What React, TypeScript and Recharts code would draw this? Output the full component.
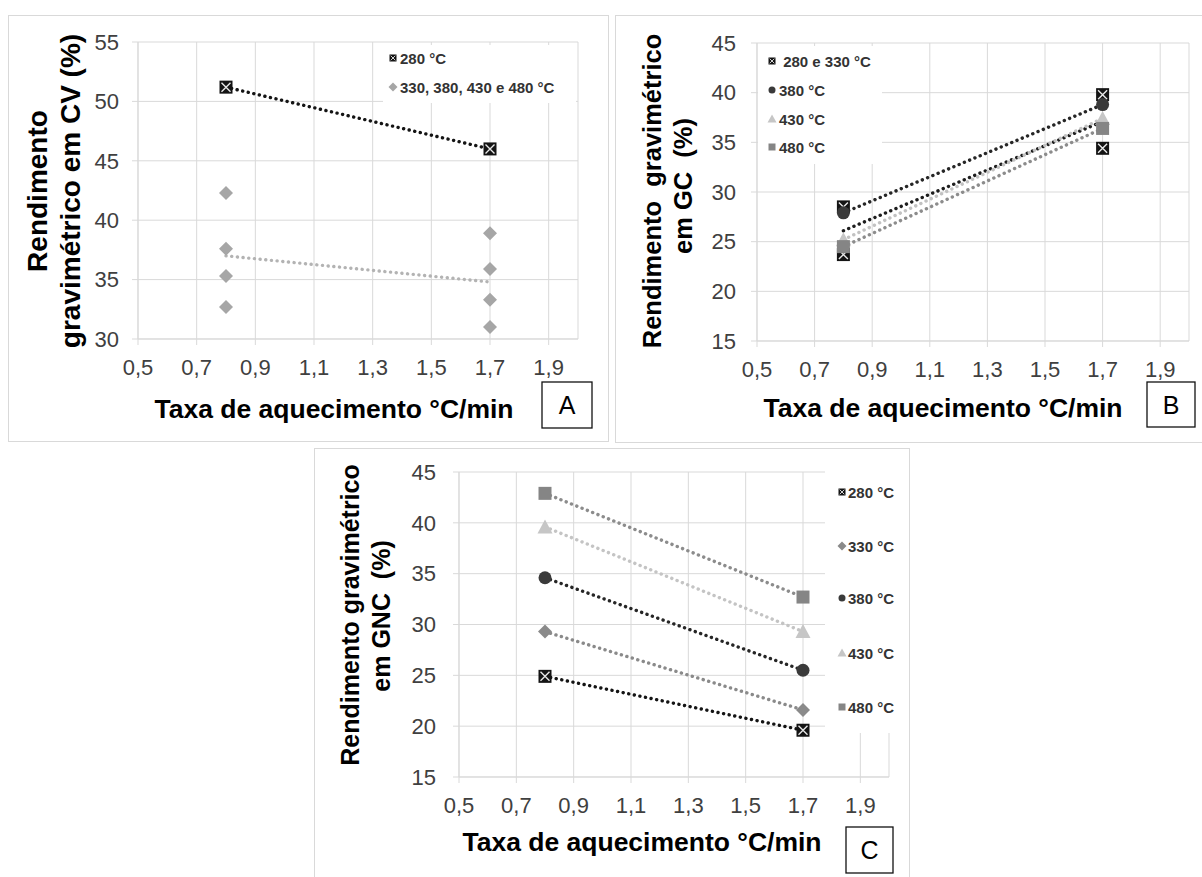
import React from 'react';
import { ScatterChart, Scatter, XAxis, YAxis, CartesianGrid, Legend } from 'recharts';

const FONT = '"Liberation Sans", Arial, Helvetica, sans-serif';
const GRID = '#d9d9d9';
const TICK = '#404040';

// Heating rates (°C/min) and shared ticks
const RATES = [0.8, 1.7];
const X_TICKS = [0.5, 0.7, 0.9, 1.1, 1.3, 1.5, 1.7, 1.9];
const Y_TICKS_CV = [30, 35, 40, 45, 50, 55];
const Y_TICKS_GAS = [15, 20, 25, 30, 35, 40, 45];

// A — rendimento em CV (%)
const CV_280 = [51.2, 46.0];
const CV_OTHERS_08 = [42.3, 37.6, 35.3, 32.7];
const CV_OTHERS_17 = [38.9, 35.9, 33.3, 31.0];
const CV_OTHERS_TREND = [37.0, 34.8];
const CV_NAMES = ['280 °C', '330, 380, 430 e 480 °C'];

// B — rendimento em GC (%)
const GC_280_330_08 = [28.5, 23.7];
const GC_280_330_17 = [39.8, 34.4];
const GC_280_330_TREND = [26.1, 37.1];
const GC_380 = [27.9, 38.8];
const GC_430 = [25.2, 37.4];
const GC_480 = [24.5, 36.4];
const GC_NAMES = [' 280 e 330 °C', '380 °C', '430 °C', '480 °C'];

// C — rendimento em GNC (%)
const GNC_280 = [24.9, 19.6];
const GNC_330 = [29.3, 21.6];
const GNC_380 = [34.6, 25.5];
const GNC_430 = [39.6, 29.3];
const GNC_480 = [42.9, 32.7];
const GNC_NAMES = ['280 °C', '330 °C', '380 °C', '430 °C', '480 °C'];

const C_BLACK = '#141414';
const C_DARK = '#3a3a3a';
const C_MID = '#8a8a8a';
const C_LIGHT = '#c6c6c6';
const C_SQUARE = '#858585';
const C_CV_GRAY = '#a6a6a6';

const pts = (xs: number[], ys: number[]) => xs.map((x, i) => ({ x, y: ys[i] }));
const spread = (x: number, ys: number[]) => ys.map((y) => ({ x, y }));
const fmtComma = (v: number) => v.toFixed(1).replace('.', ',');

const dotted = (stroke: string) => ({
  stroke,
  strokeWidth: 3.4,
  strokeDasharray: '0.1 5.6',
  strokeLinecap: 'round' as const,
  fill: 'none',
});

type Kind = 'boxX' | 'diamond' | 'circle' | 'triangle' | 'square' | 'none';

function Marker({ kind, cx, cy, size, color }: { kind: Kind; cx: number; cy: number; size: number; color: string }) {
  const h = size / 2;
  if (cx == null || cy == null) return <g />;
  switch (kind) {
    case 'boxX': {
      const i = size > 9 ? 2 : 1.2;
      return (
        <g>
          <rect x={cx - h} y={cy - h} width={size} height={size} fill={C_BLACK} />
          <path
            d={`M${cx - h + i} ${cy - h + i}L${cx + h - i} ${cy + h - i}M${cx + h - i} ${cy - h + i}L${cx - h + i} ${cy + h - i}`}
            stroke="#e8e8e8"
            strokeWidth={size > 9 ? 1.4 : 0.9}
          />
        </g>
      );
    }
    case 'diamond':
      return <path d={`M${cx} ${cy - h - 1}L${cx + h + 1} ${cy}L${cx} ${cy + h + 1}L${cx - h - 1} ${cy}Z`} fill={color} />;
    case 'circle':
      return <circle cx={cx} cy={cy} r={h} fill={color} />;
    case 'triangle':
      return <path d={`M${cx} ${cy - h - 1}L${cx + h + 1} ${cy + h}L${cx - h - 1} ${cy + h}Z`} fill={color} />;
    case 'square':
      return <rect x={cx - h} y={cy - h} width={size} height={size} fill={color} />;
    default:
      return <g />;
  }
}

const shapeOf = (kind: Kind, color: string, size = 13) => (p: any) => (
  <Marker kind={kind} cx={p.cx} cy={p.cy} size={size} color={color} />
);

type LegendEntry = { name: string; kind: Kind; color: string };

function LegendBox({ entries, width, height, mx, tx, ys }: { entries: LegendEntry[]; width: number; height: number; mx: number; tx: number; ys: number[] }) {
  return (
    <svg width={width} height={height} style={{ display: 'block' }}>
      <rect width={width} height={height} fill="#fff" />
      {entries.map((e, i) => (
        <g key={i}>
          <Marker kind={e.kind} cx={mx} cy={ys[i]} size={7} color={e.color} />
          <text
            x={tx}
            y={ys[i]}
            dominantBaseline="central"
            fontFamily={FONT}
            fontWeight="bold"
            fontSize={15}
            fill="#333"
            style={{ whiteSpace: 'pre' }}
          >
            {e.name}
          </text>
        </g>
      ))}
    </svg>
  );
}

function xAxis() {
  return (
    <XAxis
      type="number"
      dataKey="x"
      domain={[0.5, 2.0]}
      ticks={X_TICKS}
      interval={0}
      tickFormatter={fmtComma}
      tick={{ fill: TICK, fontSize: 22, fontFamily: FONT }}
      tickLine={{ stroke: GRID }}
      axisLine={{ stroke: GRID }}
      tickSize={6}
      tickMargin={14}
      height={30}
    />
  );
}

function yAxis(domain: [number, number], ticks: number[], width: number, margin: number) {
  return (
    <YAxis
      type="number"
      dataKey="y"
      domain={domain}
      ticks={ticks}
      interval={0}
      tick={{ fill: TICK, fontSize: 22, fontFamily: FONT }}
      tickLine={{ stroke: GRID }}
      axisLine={{ stroke: GRID }}
      tickSize={6}
      tickMargin={margin}
      width={width}
    />
  );
}

function PanelA() {
  const entries: LegendEntry[] = [
    { name: CV_NAMES[0], kind: 'boxX', color: C_BLACK },
    { name: CV_NAMES[1], kind: 'diamond', color: C_CV_GRAY },
  ];
  const others = [...spread(RATES[0], CV_OTHERS_08), ...spread(RATES[1], CV_OTHERS_17)];
  return (
    <ScatterChart width={600} height={426} margin={{ top: 27, right: 30, bottom: 72, left: 0 }}>
      <CartesianGrid stroke={GRID} />
      {xAxis()}
      {yAxis([30, 55], Y_TICKS_CV, 130, 13)}
      <Scatter name="trend" data={pts(RATES, CV_OTHERS_TREND)} line={dotted('#b3b3b3')} lineType="joint" shape={shapeOf('none', C_CV_GRAY)} isAnimationActive={false} />
      <Scatter name={CV_NAMES[1]} data={others} shape={shapeOf('diamond', C_CV_GRAY, 12)} isAnimationActive={false} />
      <Scatter name={CV_NAMES[0]} data={pts(RATES, CV_280)} line={dotted(C_BLACK)} lineType="joint" shape={shapeOf('boxX', C_BLACK)} isAnimationActive={false} />
      <Legend
        layout="vertical"
        align="center"
        verticalAlign="middle"
        width={193}
        height={58}
        wrapperStyle={{ left: 375, top: 30, width: 193, height: 58 }}
        content={() => <LegendBox entries={entries} width={193} height={58} mx={10} tx={17} ys={[13, 42]} />}
      />
    </ScatterChart>
  );
}

function PanelB() {
  const entries: LegendEntry[] = [
    { name: GC_NAMES[0], kind: 'boxX', color: C_BLACK },
    { name: GC_NAMES[1], kind: 'circle', color: C_DARK },
    { name: GC_NAMES[2], kind: 'triangle', color: C_LIGHT },
    { name: GC_NAMES[3], kind: 'square', color: C_SQUARE },
  ];
  const pair = [...spread(RATES[0], GC_280_330_08), ...spread(RATES[1], GC_280_330_17)];
  return (
    <ScatterChart width={587} height={427} margin={{ top: 28, right: 13, bottom: 71, left: 0 }}>
      <CartesianGrid stroke={GRID} />
      {xAxis()}
      {yAxis([15, 45], Y_TICKS_GAS, 142, 15)}
      <Scatter name="trend" data={pts(RATES, GC_280_330_TREND)} line={dotted('#1e1e1e')} lineType="joint" shape={shapeOf('none', C_BLACK)} isAnimationActive={false} />
      <Scatter name={GC_NAMES[0]} data={pair} shape={shapeOf('boxX', C_BLACK)} isAnimationActive={false} />
      <Scatter name={GC_NAMES[1]} data={pts(RATES, GC_380)} line={dotted('#262626')} lineType="joint" shape={shapeOf('circle', C_DARK)} isAnimationActive={false} />
      <Scatter name={GC_NAMES[2]} data={pts(RATES, GC_430)} line={dotted('#c2c2c2')} lineType="joint" shape={shapeOf('triangle', C_LIGHT)} isAnimationActive={false} />
      <Scatter name={GC_NAMES[3]} data={pts(RATES, GC_480)} line={dotted('#8c8c8c')} lineType="joint" shape={shapeOf('square', C_SQUARE)} isAnimationActive={false} />
      <Legend
        layout="vertical"
        align="center"
        verticalAlign="middle"
        width={124}
        height={118}
        wrapperStyle={{ left: 143, top: 31, width: 124, height: 118 }}
        content={() => <LegendBox entries={entries} width={124} height={118} mx={14} tx={21} ys={[15, 44, 73, 101]} />}
      />
    </ScatterChart>
  );
}

function PanelC() {
  const entries: LegendEntry[] = [
    { name: GNC_NAMES[0], kind: 'boxX', color: C_BLACK },
    { name: GNC_NAMES[1], kind: 'diamond', color: C_MID },
    { name: GNC_NAMES[2], kind: 'circle', color: C_DARK },
    { name: GNC_NAMES[3], kind: 'triangle', color: C_LIGHT },
    { name: GNC_NAMES[4], kind: 'square', color: C_SQUARE },
  ];
  return (
    <ScatterChart width={595} height={429} margin={{ top: 24, right: 20, bottom: 70, left: 0 }}>
      <CartesianGrid stroke={GRID} />
      {xAxis()}
      {yAxis([15, 45], Y_TICKS_GAS, 145, 17)}
      <Scatter name={GNC_NAMES[4]} data={pts(RATES, GNC_480)} line={dotted('#8c8c8c')} lineType="joint" shape={shapeOf('square', C_SQUARE)} isAnimationActive={false} />
      <Scatter name={GNC_NAMES[3]} data={pts(RATES, GNC_430)} line={dotted('#c4c4c4')} lineType="joint" shape={shapeOf('triangle', C_LIGHT)} isAnimationActive={false} />
      <Scatter name={GNC_NAMES[2]} data={pts(RATES, GNC_380)} line={dotted('#262626')} lineType="joint" shape={shapeOf('circle', C_DARK)} isAnimationActive={false} />
      <Scatter name={GNC_NAMES[1]} data={pts(RATES, GNC_330)} line={dotted('#8a8a8a')} lineType="joint" shape={shapeOf('diamond', C_MID, 12)} isAnimationActive={false} />
      <Scatter name={GNC_NAMES[0]} data={pts(RATES, GNC_280)} line={dotted(C_BLACK)} lineType="joint" shape={shapeOf('boxX', C_BLACK)} isAnimationActive={false} />
      <Legend
        layout="vertical"
        align="center"
        verticalAlign="middle"
        width={80}
        height={267}
        wrapperStyle={{ left: 511, top: 18, width: 80, height: 267 }}
        content={() => <LegendBox entries={entries} width={80} height={267} mx={17} tx={23} ys={[26, 80, 132, 187, 241]} />}
      />
    </ScatterChart>
  );
}

function VText({ x, y, size, children }: { x: number; y: number; size: number; children: React.ReactNode }) {
  return (
    <text
      transform={`translate(${x},${y}) rotate(-90)`}
      textAnchor="middle"
      dominantBaseline="central"
      fontFamily={FONT}
      fontWeight="bold"
      fontSize={size}
      fill="#000"
      style={{ whiteSpace: 'pre' }}
    >
      {children}
    </text>
  );
}

function HText({ x, y, size, children }: { x: number; y: number; size: number; children: React.ReactNode }) {
  return (
    <text x={x} y={y} textAnchor="middle" dominantBaseline="central" fontFamily={FONT} fontWeight="bold" fontSize={size} fill="#000">
      {children}
    </text>
  );
}

function Tag({ x, y, w, h, label }: { x: number; y: number; w: number; h: number; label: string }) {
  return (
    <g>
      <rect x={x} y={y} width={w} height={h} fill="#fff" stroke="#111" strokeWidth={1.3} />
      <text x={x + w / 2} y={y + h / 2} textAnchor="middle" dominantBaseline="central" fontFamily={FONT} fontSize={25} fill="#000">
        {label}
      </text>
    </g>
  );
}

const frame = (left: number, top: number, width: number, height: number): React.CSSProperties => ({
  position: 'absolute',
  left,
  top,
  width,
  height,
  border: `1px solid ${GRID}`,
  boxSizing: 'border-box',
});

export default function App() {
  return (
    <div style={{ position: 'absolute', left: 0, top: 0, width: 1202, height: 877, background: '#fff', overflow: 'hidden', fontFamily: FONT }}>
      <div style={frame(8, 15, 601, 427)} />
      <div style={frame(615, 15, 600, 428)} />
      <div style={frame(314, 448, 596, 440)} />

      <div style={{ position: 'absolute', left: 8, top: 15 }}>
        <PanelA />
      </div>
      <div style={{ position: 'absolute', left: 615, top: 15 }}>
        <PanelB />
      </div>
      <div style={{ position: 'absolute', left: 314, top: 448 }}>
        <PanelC />
      </div>

      <svg width={1202} height={877} style={{ position: 'absolute', left: 0, top: 0, pointerEvents: 'none' }}>
        <VText x={37} y={191} size={28}>Rendimento</VText>
        <VText x={70} y={191} size={28}>gravimétrico em CV (%)</VText>
        <HText x={334} y={409} size={26.5}>Taxa de aquecimento °C/min</HText>
        <Tag x={542} y={382} w={50} h={46} label="A" />

        <VText x={652} y={191} size={25.5}>Rendimento  gravimétrico</VText>
        <VText x={683} y={186} size={25.5}>em GC  (%)</VText>
        <HText x={943} y={408} size={26.5}>Taxa de aquecimento °C/min</HText>
        <Tag x={1147} y={382} w={48} h={45} label="B" />

        <VText x={350} y={615} size={25}>Rendimento gravimétrico</VText>
        <VText x={381} y={616} size={25}>em GNC  (%)</VText>
        <HText x={642} y={842} size={26.5}>Taxa de aquecimento °C/min</HText>
        <Tag x={846} y={827} w={47} h={46} label="C" />
      </svg>
    </div>
  );
}
